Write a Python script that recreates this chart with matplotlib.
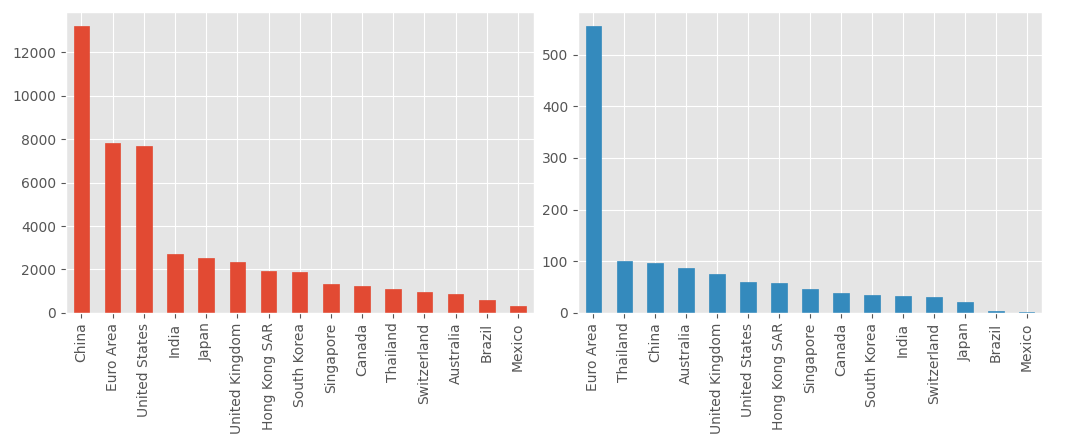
import matplotlib
matplotlib.use("Agg")
import matplotlib.pyplot as plt

plt.style.use("ggplot")

# left panel
countries_a = ["China", "Euro Area", "United States", "India", "Japan",
               "United Kingdom", "Hong Kong SAR", "South Korea", "Singapore",
               "Canada", "Thailand", "Switzerland", "Australia", "Brazil", "Mexico"]
values_a = [13210, 7840, 7690, 2720, 2540, 2340, 1925, 1865, 1330,
            1240, 1100, 948, 856, 596, 336]

# right panel
countries_b = ["Euro Area", "Thailand", "China", "Australia", "United Kingdom",
               "United States", "Hong Kong SAR", "Singapore", "Canada",
               "South Korea", "India", "Switzerland", "Japan", "Brazil", "Mexico"]
values_b = [555, 101, 97.5, 86, 76, 60, 57.5, 46.5, 39, 35, 33.6, 31, 21, 3.9, 2]

fig = plt.figure(figsize=(10.8, 4.37), dpi=100)
ax1 = fig.add_axes([0.061, 0.284, 0.433, 0.689])
ax2 = fig.add_axes([0.535, 0.284, 0.430, 0.689])


def draw(ax, names, vals, color):
    pos = range(len(names))
    ax.bar(pos, vals, width=0.5, color=color, edgecolor=color, linewidth=0.5)
    ax.set_xticks(list(pos))
    ax.set_xticklabels(names, rotation=90)
    ax.set_xlim(-0.5, len(names) - 0.5)
    ax.set_ylim(0, max(vals) * 1.05)
    ax.tick_params(labelsize=10, colors="#555555")


draw(ax1, countries_a, values_a, "#E24A33")
draw(ax2, countries_b, values_b, "#348ABD")

fig.savefig("out.png", dpi=100)
